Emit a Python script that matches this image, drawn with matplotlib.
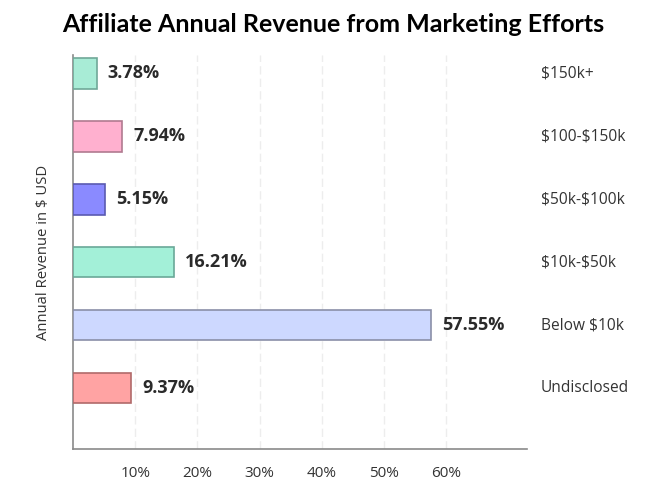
import matplotlib
matplotlib.use("Agg")
import matplotlib.pyplot as plt

categories = ["Undisclosed", "Below \\$10k", "\\$10k-\\$50k", "\\$50k-\\$100k", "\\$100-\\$150k", "\\$150k+"]
values = [9.37, 57.55, 16.21, 5.15, 7.94, 3.78]
colors = ["#ffa3a3", "#cdd8ff", "#a3f0d8", "#8a8aff", "#ffb0cf", "#a8ecd6"]
edges = ["#b06a6a", "#8a8fa8", "#6aa898", "#5a5ab0", "#b07a90", "#70a898"]
xticks = [10, 20, 30, 40, 50, 60]
xticklabels = ["10%", "20%", "30%", "40%", "50%", "60%"]

plt.rcParams['font.family'] = ['Open Sans', 'DejaVu Sans']
fig = plt.figure(figsize=(6.66, 5), dpi=100)
ax = fig.add_axes([0.1096, 0.102, 0.6817, 0.788])

y = list(range(len(categories)))
ax.barh(y, values, height=0.49, color=colors, edgecolor=edges, linewidth=1.2, zorder=3)
for yi, v in zip(y, values):
    ax.annotate(f"{v:.2f}%", (v, yi), xytext=(8, 0), textcoords="offset points",
                va="center", ha="left", fontsize=13, fontweight="bold", color="#2a2a2a")

for yi, c in zip(y, categories):
    ax.text(1.03, yi, c, transform=ax.get_yaxis_transform(), va="center", ha="left",
            fontsize=11.2, color="#333333", clip_on=False)

ax.set_xlim(0, 73)
ax.set_ylim(-0.97, 5.29)
ax.set_xticks(xticks)
ax.set_xticklabels(xticklabels, fontsize=11, color="#333333")
ax.set_yticks([])
ax.tick_params(axis="x", length=0, pad=12)
ax.grid(axis="x", color="#ededed", linestyle=(0, (6, 3)), linewidth=1, zorder=0)
for s in ["top", "right"]:
    ax.spines[s].set_visible(False)
for s in ["left", "bottom"]:
    ax.spines[s].set_color("#8a8a8a")
    ax.spines[s].set_linewidth(1.2)
ax.set_ylabel("Annual Revenue in \\$ USD", fontsize=10.7, color="#333333", labelpad=16)

fig.text(0.5, 0.95, "Affiliate Annual Revenue from Marketing Efforts", ha="center", va="center",
         fontsize=18, fontweight="bold", family=["Lato", "DejaVu Sans"], color="black")

fig.savefig("out.png", dpi=100, facecolor="white")
